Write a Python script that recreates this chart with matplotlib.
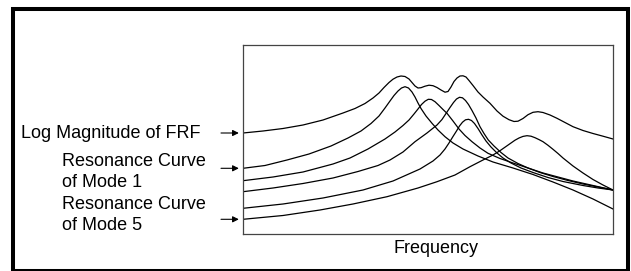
import matplotlib
matplotlib.use("Agg")
import matplotlib.pyplot as plt
from matplotlib.patches import Rectangle

plt.rcParams["font.family"] = ["Liberation Sans", "DejaVu Sans"]

# frequency (arbitrary units, 0..370) and log magnitude (arbitrary units, 0..189)
frf_f = [0, 20, 40, 60, 80, 100, 112, 122, 130, 136, 141, 146, 150, 154, 158, 162, 166, 169,
         172, 175, 178, 182, 186, 190, 194, 198, 202, 205, 208, 211, 214, 217, 220, 223, 226,
         230, 235, 240, 247, 254, 260, 266, 271, 275, 280, 285, 290, 295, 300, 307, 314, 322,
         330, 340, 350, 360, 370]
frf_m = [101, 103, 105.5, 109, 114, 121, 125.5, 130.5, 136, 141, 146.5, 151.5, 154.8, 157, 158,
         157.5, 155, 151.5, 148, 146, 146.3, 147.8, 148.8, 148.3, 146.5, 144, 141.8, 142.5, 147,
         152.5, 156, 158, 158.2, 157, 153.5, 148.5, 142, 137, 130.7, 123, 117.8, 114.3, 112.5,
         112.8, 115.5, 119.3, 121.7, 122.3, 121.5, 119, 115.7, 111.5, 107.3, 103.5, 100.5,
         97.8, 95]

mode1_f = [0, 22, 44, 66, 88, 105, 118, 128, 136, 142, 147, 151, 155, 158.5, 162, 165.5, 169,
           172, 175, 178, 183, 189, 195, 202, 210, 220, 235, 250, 270, 290, 310, 330, 350, 370]
mode1_m = [65.7, 68.5, 74, 80, 88, 96, 103, 110.5, 118, 126, 133, 138.5, 143, 146, 147.3, 146,
           142, 137, 131, 125.5, 118, 110.7, 104, 97.3, 91, 85, 78, 72, 66, 59.5, 52, 44, 35, 25]

mode2_f = [0, 30, 60, 90, 107, 125, 142, 152, 160, 166, 171, 175, 178.5, 182, 185.3, 188.5,
           192, 196, 200, 204, 210, 216, 222, 229, 237, 245, 257, 270, 285, 300, 315, 330, 350,
           370]
mode2_m = [53.3, 57, 62, 70, 76, 85, 95, 102, 108.5, 114, 120, 125, 129.5, 132.8, 134.7, 134.5,
           132.3, 128.5, 124.5, 120.7, 113, 105, 98.5, 92.3, 86, 80.7, 75.5, 71, 66, 61, 57, 53,
           48.5, 44]

mode3_f = [0, 30, 60, 90, 115, 135, 147, 160, 172, 184, 194, 199, 203, 207, 210.5, 213.5,
           216.5, 219.5, 222.5, 225.5, 229, 233, 237, 241, 245.3, 251, 258, 265, 275, 285, 297,
           310, 325, 340, 355, 370]
mode3_m = [42.3, 46, 50.5, 56, 62.5, 68.5, 74, 82, 92.3, 101, 109, 114.5, 120.5, 126.5, 131.5,
           135, 136.7, 136.2, 133.5, 129.5, 123.5, 116, 107.3, 100.5, 94, 88, 81.5, 76, 70.5,
           66, 61.5, 57.5, 53.5, 50, 47, 44]

mode4_f = [0, 40, 80, 120, 150, 177, 190, 197, 202, 206, 210, 213.5, 216.5, 219.5, 222.5,
           225.5, 228.5, 231.5, 235, 239, 243, 248, 254, 260, 268, 278, 290, 305, 320, 340, 355,
           370]
mode4_m = [25.7, 30, 36, 44, 53, 65, 73, 79, 85, 91, 97.5, 103, 108, 111.8, 114.2, 114.7,
           113.5, 110.5, 105.5, 99, 93, 87, 81, 76, 71, 66, 61.5, 56.5, 52.5, 48.5, 46, 44]

mode5_f = [0, 40, 77, 110, 144, 175, 194, 212, 227, 240, 250, 257, 263, 268, 272, 276, 280,
           284, 288, 292, 296, 300, 305, 310, 315, 320, 330, 340, 350, 360, 370]
mode5_m = [14.7, 18.5, 24, 30, 37.3, 46, 52.3, 59, 67.3, 74, 79, 83.3, 87.5, 91, 93.8, 96,
           97.6, 98.3, 97.8, 96.3, 94.4, 92.3, 88.7, 84.7, 80.5, 76, 68, 61, 54.5, 49, 44]

curves = [
    (frf_f, frf_m),
    (mode1_f, mode1_m),
    (mode2_f, mode2_m),
    (mode3_f, mode3_m),
    (mode4_f, mode4_m),
    (mode5_f, mode5_m),
]

W, H = 631, 271
fig = plt.figure(figsize=(W / 100, H / 100), dpi=100)
ax = fig.add_axes([243 / W, (H - 234) / H, 370 / W, 189 / H])

for f, m in curves:
    ax.plot(f, m, color="black", lw=0.9, solid_joinstyle="round")

ax.set_xlim(0, 370)
ax.set_ylim(0, 189)
ax.set_xticks([])
ax.set_yticks([])
for s in ax.spines.values():
    s.set_color("#444444")
    s.set_linewidth(0.9)

# arrows pointing at the labelled curves
for f, m in [curves[0], curves[1], curves[5]]:
    ax.annotate("", xy=(0, m[0]), xytext=(-22, 0), textcoords="offset pixels",
                arrowprops=dict(arrowstyle="-|>", color="black", lw=0.8,
                                mutation_scale=9, shrinkA=0, shrinkB=3))

fs = 13
fig.text(21.3 / W, (H - 137.7) / H, "Log Magnitude of FRF", fontsize=fs, va="baseline")
fig.text(62 / W, (H - 166) / H, "Resonance Curve", fontsize=fs, va="baseline")
fig.text(62 / W, (H - 187.3) / H, "of Mode 1", fontsize=fs, va="baseline")
fig.text(62 / W, (H - 209.3) / H, "Resonance Curve", fontsize=fs, va="baseline")
fig.text(62 / W, (H - 230) / H, "of Mode 5", fontsize=fs, va="baseline")
fig.text(435.8 / W, (H - 253.3) / H, "Frequency", fontsize=fs, ha="center", va="baseline")

# outer frame
fig.add_artist(Rectangle((13 / W, 0), (628 - 13) / W, (H - 9) / H, transform=fig.transFigure,
                         fill=False, edgecolor="black", lw=2.9))

fig.savefig("out.png", dpi=100)
